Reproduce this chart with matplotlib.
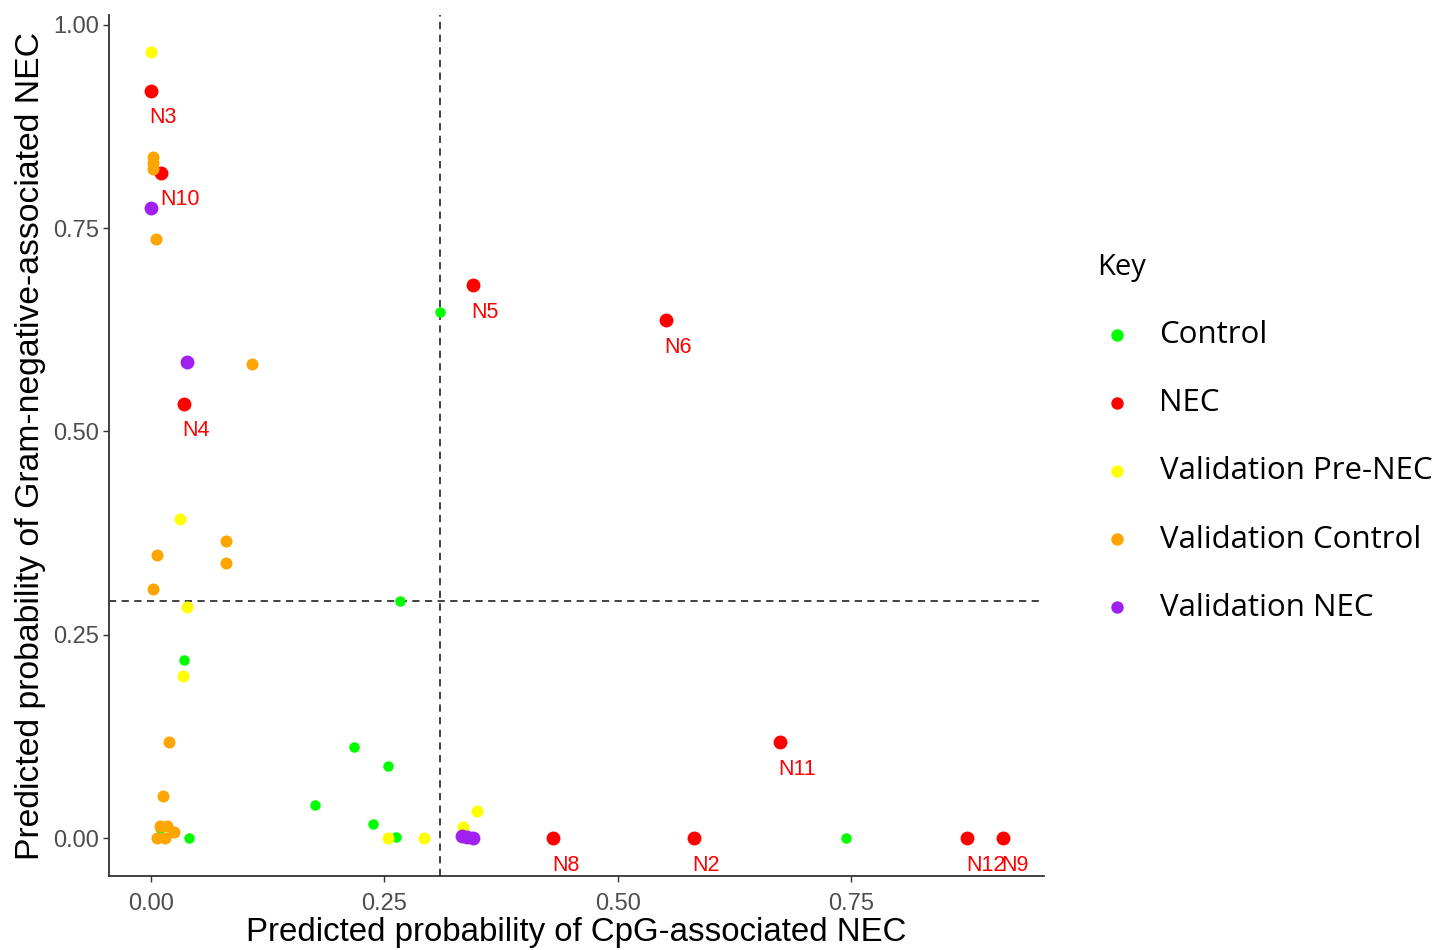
import matplotlib
matplotlib.use("Agg")
import matplotlib.pyplot as plt

# data
ctrl_x = [0.310, 0.267, 0.035, 0.218, 0.254, 0.176, 0.238, 0.263, 0.041, 0.745, 0.010]
ctrl_y = [0.647, 0.292, 0.219, 0.112, 0.089, 0.041, 0.017, 0.001, 0.000, 0.000, 0.012]

nec_x = [0.000, 0.011, 0.345, 0.552, 0.035, 0.674, 0.431, 0.582, 0.875, 0.913]
nec_y = [0.919, 0.818, 0.680, 0.637, 0.534, 0.118, 0.000, 0.000, 0.000, 0.000]
nec_lab = ["N3", "N10", "N5", "N6", "N4", "N11", "N8", "N2", "N12", "N9"]

pre_x = [0.000, 0.031, 0.039, 0.034, 0.349, 0.334, 0.254, 0.293]
pre_y = [0.966, 0.392, 0.284, 0.199, 0.033, 0.013, 0.000, 0.000]

vctrl_x = [0.002, 0.002, 0.002, 0.005, 0.108, 0.080, 0.080, 0.006, 0.002,
           0.019, 0.013, 0.010, 0.017, 0.025, 0.006, 0.015]
vctrl_y = [0.838, 0.830, 0.823, 0.737, 0.583, 0.365, 0.338, 0.348, 0.306,
           0.118, 0.052, 0.015, 0.015, 0.008, 0.000, 0.000]

vnec_x = [0.000, 0.039, 0.333, 0.339, 0.345]
vnec_y = [0.775, 0.585, 0.002, 0.001, 0.000]

cut_x = 0.310
cut_y = 0.2915

fig = plt.figure(figsize=(14.42, 9.5), dpi=100)
ax = fig.add_axes([0.0756, 0.0779, 0.6484, 0.9063])

ax.scatter(ctrl_x, ctrl_y, s=57, color="#00FF00", label="Control", zorder=3, linewidths=0)
ax.scatter(nec_x, nec_y, s=100, color="#FF0000", label="NEC", zorder=3, linewidths=0)
ax.scatter(pre_x, pre_y, s=75, color="#FFFF00", label="Validation Pre-NEC", zorder=3, linewidths=0)
ax.scatter(vctrl_x, vctrl_y, s=75, color="#FFA500", label="Validation Control", zorder=3, linewidths=0)
ax.scatter(vnec_x, vnec_y, s=100, color="#A020F0", label="Validation NEC", zorder=3, linewidths=0)

for x, y, t in zip(nec_x, nec_y, nec_lab):
    ax.annotate(t, (x, y), xytext=(-1, -19.5), textcoords="offset points",
                ha="left", va="center", color="#FF0000", fontsize=15.5,
                family="Liberation Sans", zorder=4)

ax.axvline(cut_x, color="#333333", lw=1.3, ls=(0, (4, 3)), zorder=2)
ax.axhline(cut_y, color="#333333", lw=1.3, ls=(0, (4, 3)), zorder=2)

ax.set_xlim(-0.045, 0.957)
ax.set_ylim(-0.0467, 1.012)
ax.set_xticks([0, 0.25, 0.5, 0.75])
ax.set_xticklabels(["0.00", "0.25", "0.50", "0.75"])
ax.set_yticks([0, 0.25, 0.5, 0.75, 1.0])
ax.set_yticklabels(["0.00", "0.25", "0.50", "0.75", "1.00"])

for s in ["top", "right"]:
    ax.spines[s].set_visible(False)
for s in ["left", "bottom"]:
    ax.spines[s].set_color("#333333")
    ax.spines[s].set_linewidth(1.3)

ax.tick_params(length=4, width=1, color="#333333", labelcolor="#4D4D4D",
               labelsize=17, pad=3)
ax.tick_params(axis="x", pad=8)
for lbl in ax.get_xticklabels() + ax.get_yticklabels():
    lbl.set_family("Liberation Sans")

ax.set_xlabel("Predicted probability of CpG-associated NEC", fontsize=23.8,
              family="Liberation Sans", labelpad=2)
ax.set_ylabel("Predicted probability of Gram-negative-associated NEC", fontsize=24.3,
              family="Liberation Sans", labelpad=5)

leg = fig.legend(loc="upper left", bbox_to_anchor=(1097 / 1442, 1 - 253 / 950),
                 frameon=False, title="Key", prop={"family": "Open Sans", "size": 22.5},
                 title_fontproperties={"family": "Open Sans", "size": 21},
                 borderpad=0, handlelength=1.25, handletextpad=0.75,
                 labelspacing=1.22, borderaxespad=0)
leg._legend_box.align = "left"
for h in leg.legend_handles:
    h.set_sizes([80])

fig.savefig("out.png", dpi=100)
